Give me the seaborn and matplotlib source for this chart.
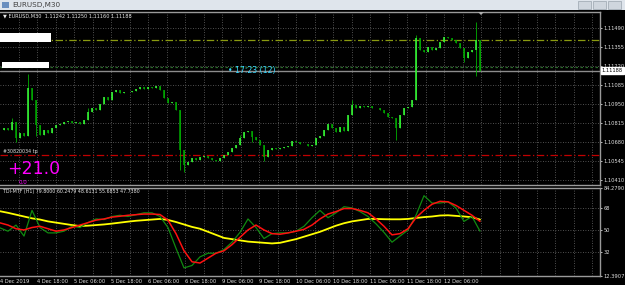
import numpy as np
import pandas as pd
import matplotlib
matplotlib.use("Agg")
import matplotlib.pyplot as plt
import seaborn as sns
from matplotlib.patches import Rectangle, Polygon

# ---------------- data ----------------
close = [1.10765, 1.10780, 1.10765, 1.10822, 1.10708, 1.10744, 1.10723, 1.11064, 1.10978, 1.10801,
         1.10730, 1.10765, 1.10744, 1.10780, 1.10801, 1.10808, 1.10822, 1.10829, 1.10815, 1.10822,
         1.10808, 1.10836, 1.10893, 1.10922, 1.10907, 1.10950, 1.11000, 1.10978, 1.11035, 1.11050,
         1.11028, 1.11035, 1.11035, 1.11042, 1.11057, 1.11071, 1.11057, 1.11071, 1.11064, 1.11078,
         1.11050, 1.10993, 1.10957, 1.10964, 1.10907, 1.10623, 1.10517, 1.10538, 1.10566, 1.10552,
         1.10573, 1.10581, 1.10566, 1.10552, 1.10545, 1.10566, 1.10588, 1.10609, 1.10637, 1.10659,
         1.10708, 1.10751, 1.10758, 1.10716, 1.10694, 1.10659, 1.10573, 1.10623, 1.10637, 1.10630,
         1.10637, 1.10645, 1.10652, 1.10687, 1.10680, 1.10666, 1.10666, 1.10652, 1.10659, 1.10708,
         1.10723, 1.10765, 1.10808, 1.10780, 1.10751, 1.10787, 1.10758, 1.10872, 1.10943, 1.10922,
         1.10936, 1.10929, 1.10936, 1.10922, 1.10922, 1.10907, 1.10886, 1.10858, 1.10851, 1.10780,
         1.10872, 1.10922, 1.10929, 1.10978, 1.11419, 1.11334, 1.11320, 1.11355, 1.11334, 1.11348,
         1.11391, 1.11426, 1.11419, 1.11405, 1.11383, 1.11348, 1.11277, 1.11320, 1.11334, 1.11405,
         1.11188]
spike_hi = {7: 1.11163, 3: 1.10851, 104: 1.11440, 119: 1.11533, 45: 1.10907, 22: 1.10922,
            60: 1.10730, 88: 1.10978}
spike_lo = {45: 1.10480, 46: 1.10470, 66: 1.10545, 99: 1.10694, 4: 1.10680, 119: 1.11150,
            9: 1.10723, 63: 1.10680, 116: 1.11250}

tdi_green = [51.7, 49, 54, 45, 66, 52, 47.6, 47.6, 49, 53, 52, 56, 59, 58.5, 61, 62, 61, 62.5, 64, 64,
             61, 52, 35, 19, 21, 28, 31, 31, 34, 40, 48, 59, 52, 43, 47, 47.6, 47.6, 49, 53, 60,
             66, 60, 64, 69, 68, 65, 61, 55, 48, 40, 45, 50, 62, 78, 72, 72, 73, 68, 57, 61, 49]
tdi_red = [55.8, 54, 51, 50, 52, 53, 51, 49, 50, 52, 54, 56, 58, 59, 60.5, 61.2, 62, 62.5, 63, 63,
           62.6, 58, 47, 33, 24, 23, 27, 31, 33, 38, 44, 50, 54, 50, 47, 46.5, 47.6, 49, 50.5, 54,
           59, 63, 65, 67.5, 67.5, 66, 64, 59, 53, 46, 47, 51, 60, 66, 71, 73.4, 73, 70, 66, 62, 57]
tdi_yellow = [65.3, 64, 62.5, 61, 59.5, 58.5, 57, 56, 55, 54, 53.2, 53.5, 54, 54.5, 55.2, 56, 56.8, 57.5, 58, 58.5,
              59, 58.2, 56.5, 54.5, 52.5, 51, 48.5, 46, 43.5, 42.5, 41.5, 40.5, 40, 39.5, 39, 39.5, 41, 42.5, 44.5, 46.5,
              48.5, 51, 53.5, 55.5, 57, 58, 59, 59, 58.8, 58.7, 58.7, 59, 59.8, 60.5, 61, 61.8, 62, 61.5, 61, 60.4, 58.5]

price_ticks = [1.11490, 1.11355, 1.11220, 1.11085, 1.10950, 1.10815, 1.10680, 1.10545, 1.10410]
tdi_ticks = [84.2790, 68, 50, 32, 12.3907]
tdi_tick_labels = ["84.2790", "68", "50", "32", "12.3907"]
time_labels = ["4 Dec 2019", "4 Dec 18:00", "5 Dec 06:00", "5 Dec 18:00", "6 Dec 06:00",
               "6 Dec 18:00", "9 Dec 06:00", "9 Dec 18:00", "10 Dec 06:00", "10 Dec 18:00",
               "11 Dec 06:00", "11 Dec 18:00", "12 Dec 06:00"]
levels = {"target": 1.11405, "ask": 1.11213, "bid": 1.11188, "stop": 1.10591}

# ---------------- style ----------------
sns.set_theme(style="dark")
plt.rcParams['font.family'] = ['DejaVu Sans']
W, H = 625, 285
fig = plt.figure(figsize=(W / 100, H / 100), dpi=100, facecolor="black")

BAR_PX = 37 / 24.0
XMAX = 600 / BAR_PX
cstep = 4 / BAR_PX
tstep = 8 / BAR_PX
TICK_FS = 3.7

def fx(px):
    return px / W

def fy(py):
    return 1 - py / H

ax1 = fig.add_axes([0, fy(185), 600 / W, (185 - 12) / H])
ax2 = fig.add_axes([0, fy(276), 600 / W, (276 - 188) / H])

grid_kw = dict(color="#6a6a6a", lw=0.6, linestyle=(0, (1, 2)))
for ax in (ax1, ax2):
    ax.set_facecolor("black")
    ax.set_xlim(0, XMAX)
    for s in ax.spines.values():
        s.set_color("#9a9a9a")
        s.set_linewidth(1.0)
    ax.spines["left"].set_visible(False)
    ax.yaxis.tick_right()
    ax.tick_params(axis="y", colors="#e0e0e0", labelsize=TICK_FS, length=1.5, pad=1.2, width=0.6)
    ax.tick_params(axis="x", colors="#e0e0e0", labelsize=TICK_FS, length=1.5, pad=0.8, width=0.6)
    for gx in np.arange(12, XMAX, 12):
        ax.axvline(gx, zorder=0, **grid_kw)
    ax.grid(False)

# ---------------- main candles ----------------
ax1.set_ylim(1.10375, 1.11604)
ax1.set_yticks(price_ticks)
ax1.set_yticklabels([f"{v:.5f}" for v in price_ticks])
ax1.set_xticks([])
for v in price_ticks:
    ax1.axhline(v, zorder=0, **grid_kw)

c = np.array(close)
o = np.concatenate([[c[0]], c[:-1]])
xs = np.arange(len(c)) * cstep
up = c >= o
lo = np.minimum(o, c)
hi = np.maximum(o, c)
wl = lo.copy(); wh = hi.copy()
for k, v in spike_hi.items():
    wh[k] = max(wh[k], v)
for k, v in spike_lo.items():
    wl[k] = min(wl[k], v)
ax1.vlines(xs, wl, wh, color="#00b000", lw=0.6, zorder=3)
ax1.vlines(xs[up], lo[up], hi[up] + 0.00003, color="#3cff3c", lw=1.1, zorder=4)
ax1.vlines(xs[~up], lo[~up], hi[~up] + 0.00003, color="#00a800", lw=1.1, zorder=4)

ax1.axhline(levels["target"], color="#8a9a10", lw=0.9, linestyle=(0, (6, 2, 1, 2)), zorder=2)
ax1.axhline(levels["ask"], color="#2a6a2a", lw=0.9, linestyle=(0, (2, 2)), zorder=2)
ax1.axhline(levels["bid"], color="#8c8c8c", lw=1.0, zorder=2)
ax1.axhline(levels["stop"], color="#c00000", lw=0.9, linestyle=(0, (6, 2, 1, 2)), zorder=2)

ax1.text(1.003, levels["bid"], "1.11188", transform=ax1.get_yaxis_transform(), fontsize=TICK_FS,
         color="black", va="center", ha="left",
         bbox=dict(boxstyle="square,pad=0.2", fc="white", ec="white"), clip_on=False, zorder=10)

# ---------------- indicator ----------------
n = len(tdi_green)
df = pd.DataFrame({"x": np.arange(n) * tstep, "green": tdi_green, "red": tdi_red, "yellow": tdi_yellow})
sns.lineplot(data=df, x="x", y="yellow", ax=ax2, color="#ffff00", lw=1.3, zorder=3)
sns.lineplot(data=df, x="x", y="green", ax=ax2, color="#108a10", lw=0.9, zorder=4)
sns.lineplot(data=df, x="x", y="red", ax=ax2, color="#ff1010", lw=1.1, zorder=5)
ax2.set_ylim(12.3907, 84.2790)
ax2.set_yticks(tdi_ticks)
ax2.set_yticklabels(tdi_tick_labels)
for v in [68, 50, 32]:
    ax2.axhline(v, zorder=0, **grid_kw)
ax2.set_xlabel(""); ax2.set_ylabel("")
ax2.set_xticks(np.arange(len(time_labels)) * 24)
ax2.set_xticklabels(time_labels, ha="left")

# ---------------- window chrome & texts ----------------
fig.patches.append(Rectangle((0, fy(10)), 1, 10 / H, transform=fig.transFigure, fc="#dfe5ec", ec="none", zorder=0))
for bx in (578, 593, 608):
    fig.patches.append(Rectangle((fx(bx), fy(9)), 13 / W, 8 / H, transform=fig.transFigure,
                                 fc="#cfd6de", ec="#9aa4ae", lw=0.5, zorder=1))
fig.text(fx(12), fy(5), "EURUSD,M30", fontsize=5.2, color="#404040", va="center")
fig.patches.append(Rectangle((fx(2), fy(8)), 7 / W, 6 / H, transform=fig.transFigure, fc="#6a8fbf", ec="none"))
fig.patches.append(Polygon([(fx(478), fy(12)), (fx(484), fy(12)), (fx(481), fy(15))], closed=True,
                           transform=fig.transFigure, fc="#b0b0b0", ec="none", zorder=6))

fig.text(fx(3), fy(16), "\u25BC EURUSD,M30  1.11242 1.11250 1.11160 1.11188", fontsize=3.6, color="#e8e8e8", va="center")
fig.patches.append(Rectangle((0, fy(42)), 51 / W, 9 / H, transform=fig.transFigure, fc="white", ec="none", zorder=5))
fig.patches.append(Rectangle((fx(2), fy(68)), 47 / W, 6 / H, transform=fig.transFigure, fc="white", ec="none", zorder=5))
fig.text(fx(228), fy(71), "\u2022 17:23 (12)", fontsize=5.6, color="#38d8ff", va="center")
fig.text(fx(3), fy(151), "#30820034 tp", fontsize=3.4, color="#e0e0e0", va="center")
fig.text(fx(7), fy(169), "+21.0", fontsize=12.5, color="#ff00ff", va="center")
fig.text(fx(19), fy(182), "0.0", fontsize=4, color="#ff00ff", va="center")
fig.text(fx(3), fy(192), "TDI-MTF (H1) 79.8000 60.2479 48.6131 55.6853 47.7380", fontsize=3.4, color="#e8e8e8", va="center")

fig.savefig("out.png", dpi=100, facecolor="black")
